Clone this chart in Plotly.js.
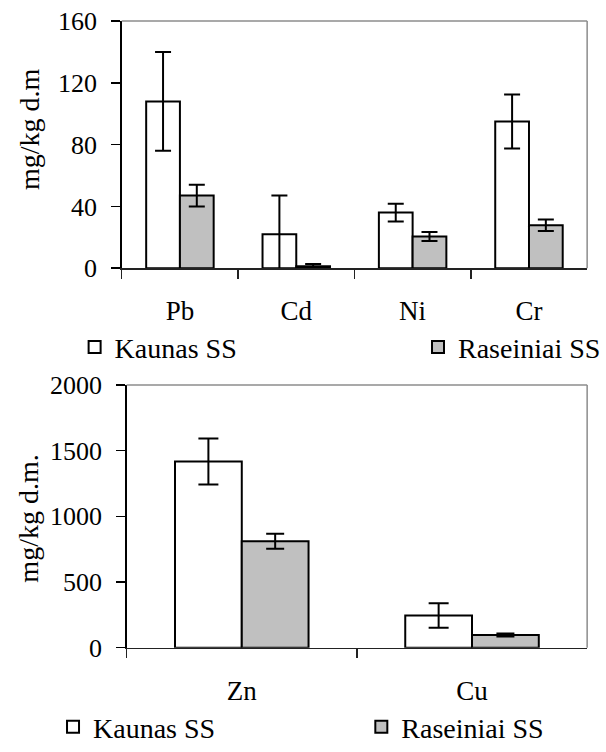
<!DOCTYPE html>
<html>
<head>
<meta charset="utf-8">
<script src="https://cdn.plot.ly/plotly-3.0.1.min.js"></script>
<style>
  html, body { margin: 0; padding: 0; background: #ffffff; }
  #chart { width: 606px; height: 752px; }
</style>
</head>
<body>
<div id="chart"></div>
<script>
// ---- data ----
var topCategories = ['Pb', 'Cd', 'Ni', 'Cr'];
var kaunasTop = [108, 22, 36, 95];
var kaunasTopErr = [32, 25, 5.7, 17.5];
var raseiniaiTop = [47, 1.2, 20.5, 27.8];
var raseiniaiTopErr = [7, 1.5, 2.9, 3.7];

var bottomCategories = ['Zn', 'Cu'];
var kaunasBottom = [1418, 245];
var kaunasBottomErr = [175, 93];
var raseiniaiBottom = [810, 97];
var raseiniaiBottomErr = [57, 12];

var seriesNames = ['Kaunas SS', 'Raseiniai SS'];
var topTicks = [0, 40, 80, 120, 160];
var bottomTicks = [0, 500, 1000, 1500, 2000];
var yTitleTop = 'mg/kg d.m';
var yTitleBottom = 'mg/kg d.m.';

// ---- styles ----
var FONT = 'Liberation Serif, serif';
var W = 606, H = 752;
function px(x) { return x / W; }
function py(y) { return (H - y) / H; }

function barTrace(x, y, err, name, fill, xa, ya, legendId, capW) {
  return {
    type: 'bar', x: x, y: y, name: name,
    xaxis: xa, yaxis: ya, legend: legendId,
    marker: { color: fill, line: { color: '#000000', width: 2 } },
    error_y: { type: 'data', array: err, visible: true, color: '#000000', thickness: 2, width: capW },
    cliponaxis: true
  };
}

var data = [
  barTrace(topCategories, kaunasTop, kaunasTopErr, seriesNames[0], '#ffffff', 'x', 'y', 'legend', 8),
  barTrace(topCategories, raseiniaiTop, raseiniaiTopErr, seriesNames[1], '#c0c0c0', 'x', 'y', 'legend2', 8),
  barTrace(bottomCategories, kaunasBottom, kaunasBottomErr, seriesNames[0], '#ffffff', 'x2', 'y2', 'legend3', 10),
  barTrace(bottomCategories, raseiniaiBottom, raseiniaiBottomErr, seriesNames[1], '#c0c0c0', 'x2', 'y2', 'legend4', 9)
];

var tickFont = { family: FONT, size: 26, color: '#000000' };
var catFont = { family: FONT, size: 27, color: '#000000' };
var legFont = { family: FONT, size: 28, color: '#000000' };

function xAxis(domain, anchor) {
  return {
    domain: domain, anchor: anchor, type: 'category',
    showline: true, linecolor: '#222222', linewidth: 1.5,
    ticks: 'outside', tickson: 'boundaries', ticklen: 9, tickwidth: 1.5, tickcolor: '#222222',
    showgrid: false, zeroline: false, tickfont: catFont, ticklabelstandoff: 18,
    fixedrange: true
  };
}
function yAxis(domain, anchor, range, ticks) {
  return {
    domain: domain, anchor: anchor, range: range, tickvals: ticks,
    showline: true, linecolor: '#000000', linewidth: 1.5,
    ticks: 'outside', ticklen: 9, tickwidth: 1.5, tickcolor: '#000000',
    showgrid: false, zeroline: false, tickfont: tickFont, ticklabelstandoff: 9,
    fixedrange: true
  };
}
function legendAt(xpx, ypx) {
  return {
    x: px(xpx), y: py(ypx), xanchor: 'left', yanchor: 'middle',
    orientation: 'h', font: legFont, bgcolor: 'rgba(0,0,0,0)', borderwidth: 0,
    itemclick: false, itemdoubleclick: false
  };
}

var frameColor = '#8c8c8c';
var layout = {
  width: W, height: H,
  margin: { l: 0, r: 0, t: 0, b: 0 },
  paper_bgcolor: '#ffffff', plot_bgcolor: '#ffffff',
  font: { family: FONT, color: '#000000' },
  barmode: 'group', bargap: 0.42, bargroupgap: 0,
  showlegend: true,
  xaxis: xAxis([px(124), px(598)], 'y'),
  yaxis: yAxis([py(273.3), py(21.5)], 'x', [0, 160], topTicks),
  xaxis2: xAxis([px(129), px(598)], 'y2'),
  yaxis2: yAxis([py(660), py(392.3)], 'x2', [0, 2000], bottomTicks),
  legend: legendAt(76, 354),
  legend2: legendAt(426, 354),
  legend3: legendAt(54, 741),
  legend4: legendAt(368, 741),
  shapes: [
    { type: 'line', xref: 'x domain', yref: 'y domain', x0: 0, x1: 1, y0: 1, y1: 1, line: { color: frameColor, width: 1.5 } },
    { type: 'line', xref: 'x domain', yref: 'y domain', x0: 1, x1: 1, y0: 0, y1: 1, line: { color: frameColor, width: 1.5 } },
    { type: 'line', xref: 'x2 domain', yref: 'y2 domain', x0: 0, x1: 1, y0: 1, y1: 1, line: { color: frameColor, width: 1.5 } },
    { type: 'line', xref: 'x2 domain', yref: 'y2 domain', x0: 1, x1: 1, y0: 0, y1: 1, line: { color: frameColor, width: 1.5 } }
  ],
  annotations: [
    { text: yTitleTop, textangle: -90, xref: 'paper', yref: 'paper', x: px(30), y: py(131),
      xanchor: 'center', yanchor: 'middle', showarrow: false, font: { family: FONT, size: 28, color: '#000000' } },
    { text: yTitleBottom, textangle: -90, xref: 'paper', yref: 'paper', x: px(29), y: py(528),
      xanchor: 'center', yanchor: 'middle', showarrow: false, font: { family: FONT, size: 28, color: '#000000' } }
  ]
};

Plotly.newPlot('chart', data, layout, { displayModeBar: false, staticPlot: true });
</script>
</body>
</html>
